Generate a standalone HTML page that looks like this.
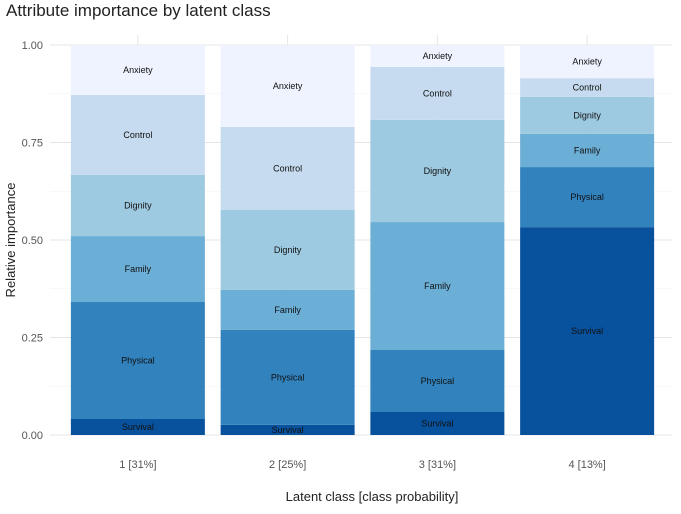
<!DOCTYPE html>
<html><head><meta charset="utf-8"><style>
body{margin:0;background:#fff;font-family:"Liberation Sans",sans-serif;}
svg text{font-family:"Liberation Sans",sans-serif;}
</style></head><body>
<svg id="chart" width="681" height="509">
<text x="6" y="16" font-size="17" fill="#222">Attribute importance by latent class</text>
<g id="grid"></g><g id="bars"></g><g id="axes"></g>
<text x="372" y="501" font-size="13" fill="#222" text-anchor="middle">Latent class [class probability]</text>
<text transform="translate(15,240) rotate(-90)" font-size="13" fill="#222" text-anchor="middle">Relative importance</text>
</svg>
<script>
const categories=["1 [31%]","2 [25%]","3 [31%]","4 [13%]"];
const attributes=["Survival","Physical","Family","Dignity","Control","Anxiety"];
const survival=[0.041,0.026,0.059,0.533];
const physical=[0.300,0.244,0.159,0.154];
const family=[0.169,0.102,0.328,0.085];
const dignity=[0.157,0.205,0.262,0.095];
const control=[0.205,0.213,0.136,0.048];
const anxiety=[0.128,0.210,0.056,0.085];
const yTicks=[0,0.25,0.5,0.75,1.0];
const yTickLabels=["0.00","0.25","0.50","0.75","1.00"];
const colors=["#08519c","#3182bd","#6baed6","#9ecae1","#c6dbef","#eff3ff"];
const series=[survival,physical,family,dignity,control,anxiety];
const ns="http://www.w3.org/2000/svg";
const x0=63,x1=662,yB=435,yT=45;
const y=v=>yB-(yB-yT)*v;
const band=(x1-x0)/categories.length;
const bw=134;
const xc=i=>x0+band*(i+0.5);
function mk(tag,at,p){const e=document.createElementNS(ns,tag);for(const k in at)e.setAttribute(k,at[k]);p.appendChild(e);return e;}
const grid=document.getElementById('grid'),bars=document.getElementById('bars'),axes=document.getElementById('axes');
for(let i=0;i<yTicks.length-1;i++){const m=(yTicks[i]+yTicks[i+1])/2;
 const l=mk('line',{x1:50,x2:672,y1:y(m),y2:y(m),stroke:'#f0f0f0','stroke-width':0.6},grid);
 
 }
yTicks.forEach((t,i)=>{const l=mk('line',{x1:50,x2:672,y1:y(t),y2:y(t),stroke:'#e4e4e4','stroke-width':1},grid);
 
 
 const tx=mk('text',{x:43,y:y(t)+4,'font-size':11,fill:'#555','text-anchor':'end'},axes);tx.textContent=yTickLabels[i];
 
 });
categories.forEach((c,i)=>{const l=mk('line',{x1:xc(i),x2:xc(i),y1:yT-10,y2:yB,stroke:'#e4e4e4','stroke-width':1},grid);
 
 
 const tx=mk('text',{x:xc(i),y:468,'font-size':11,fill:'#555','text-anchor':'middle'},axes);tx.textContent=c;
 
 
 let cum=0;
 series.forEach((s,k)=>{const v=s[i];const r=mk('rect',{x:xc(i)-bw/2,y:y(cum+v),width:bw,height:y(cum)-y(cum+v),fill:colors[k]},bars);
  
  
  const t=mk('text',{x:xc(i),y:(y(cum)+y(cum+v))/2+3,'font-size':9,fill:'#111','text-anchor':'middle'},bars);t.textContent=attributes[k];
  
  
  cum+=v;});
});
</script>
</body></html>
